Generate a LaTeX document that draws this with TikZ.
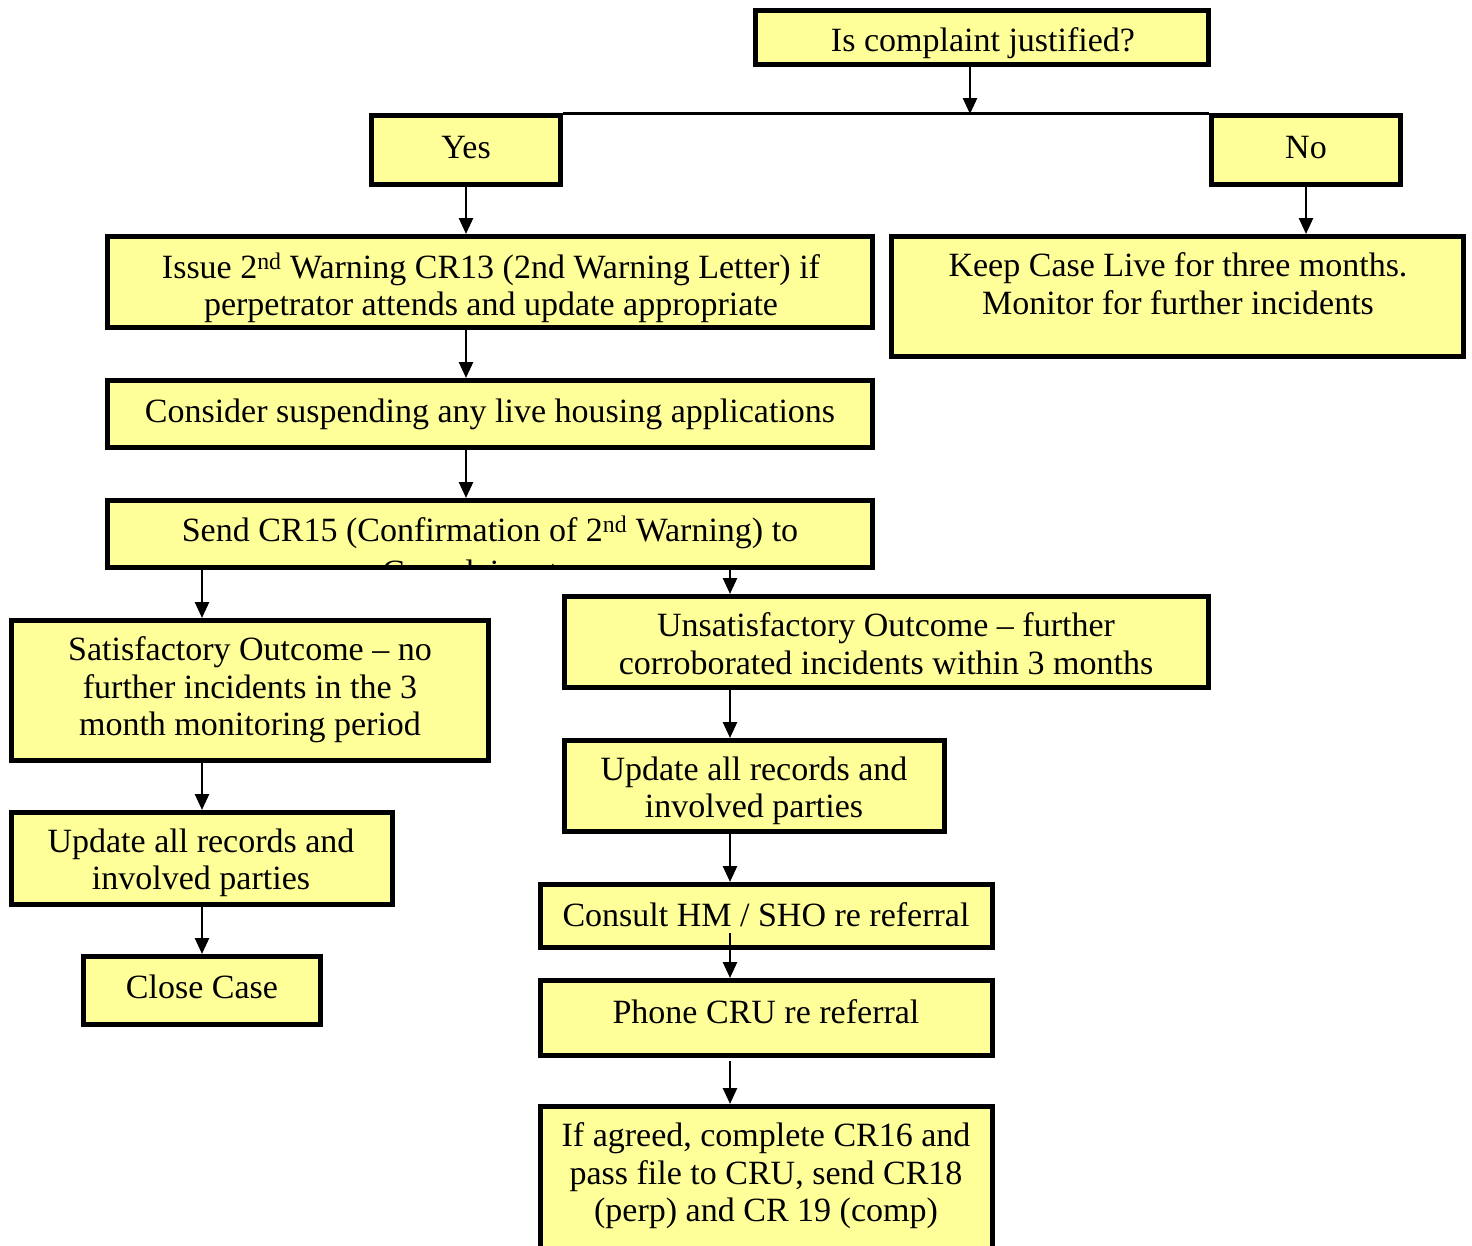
\documentclass[tikz,border=0pt]{standalone}
\usepackage{fontspec}
\setmainfont{Liberation Serif}
\usetikzlibrary{arrows.meta}
\definecolor{boxfill}{HTML}{FFFF99}
\tikzset{
  box/.style={draw=black, fill=boxfill, line width=5pt, inner sep=0pt, rectangle},
  boxtext/.style={anchor=north, inner sep=0pt, align=center, yshift=3pt,
    font=\fontsize{34}{37.5}\selectfont, execute at begin node={\strut}},
  arr/.style={line width=2.6pt, -{Triangle[length=16pt,width=14pt]}},
}
\begin{document}
\begin{tikzpicture}[x=1pt,y=-1pt]
\useasboundingbox (0,0) rectangle (1472,1245);

% boxes
\node[box, minimum width=453pt, minimum height=54pt]  (q)       at (982,37.5)   {};
\node[box, minimum width=189pt, minimum height=69pt]  (yes)     at (466,150)    {};
\node[box, minimum width=189pt, minimum height=69pt]  (no)      at (1306,150)   {};
\node[box, minimum width=765pt, minimum height=91pt]  (issue)   at (490,282)    {};
\node[box, minimum width=572pt, minimum height=120pt] (keep)    at (1177.5,296.5) {};
\node[box, minimum width=765pt, minimum height=67pt]  (consider) at (490,414)   {};
\node[box, minimum width=765pt, minimum height=67pt]  (send)    at (490,534)    {};
\node[box, minimum width=477pt, minimum height=140pt] (sat)     at (250,690.5)  {};
\node[box, minimum width=644pt, minimum height=91pt]  (unsat)   at (886.5,642)  {};
\node[box, minimum width=381pt, minimum height=92pt]  (updl)    at (202,858.5)  {};
\node[box, minimum width=237pt, minimum height=68pt]  (close)   at (202,990.5)  {};
\node[box, minimum width=380pt, minimum height=91pt]  (updr)    at (754.5,786)  {};
\node[box, minimum width=452pt, minimum height=63pt]  (consult) at (766.5,916)  {};
\node[box, minimum width=452pt, minimum height=75pt]  (phone)   at (766.5,1018) {};
\node[box, minimum width=452pt, minimum height=151pt] (agreed)  at (766.5,1182) {};

% box texts
\node[boxtext] (q-t)       at (983,28)   {Is complaint justified?};
\node[boxtext] (yes-t)     at (466,135.5)  {Yes};
\node[boxtext] (no-t)      at (1306,135.5) {No};
\node[boxtext] (issue-t)   at (491,255.5)  {Issue 2\textsuperscript{nd} Warning CR13 (2nd Warning Letter) if\\perpetrator attends and update appropriate};
\node[boxtext] (keep-t)    at (1178,255.5) {Keep Case Live for three months.\\Monitor for further incidents};
\node[boxtext] (consider-t) at (490,399.5) {Consider suspending any live housing applications};
\node[boxtext] (send-t)    at (490,518.5)  {Send CR15 (Confirmation of 2\textsuperscript{nd} Warning) to};
\begin{scope}
  \clip ([xshift=2.5pt,yshift=2.5pt]send.south west) rectangle ([xshift=-2.5pt,yshift=-2.5pt]send.north east);
  \node[boxtext] (send-t2) at (470,560) {Complainant};
\end{scope}
\node[boxtext] (unsat-t)   at (886,615.5)  {Unsatisfactory Outcome -- further\\corroborated incidents within 3 months};
\node[boxtext] (sat-t)     at (250,639.5)  {Satisfactory Outcome -- no\\further incidents in the 3\\month monitoring period};
\node[boxtext] (updl-t)    at (201,831.5)  {Update all records and\\involved parties};
\node[boxtext] (close-t)   at (202,975.5)  {Close Case};
\node[boxtext] (updr-t)    at (754,759.5)  {Update all records and\\involved parties};
\node[boxtext] (consult-t) at (766,903.5)  {Consult HM / SHO re referral};
\node[boxtext] (phone-t)   at (766,1000.5)  {Phone CRU re referral};
\node[boxtext] (agreed-t)  at (766,1125.5) {If agreed, complete CR16 and\\pass file to CRU, send CR18\\(perp) and CR 19 (comp)};

% connectors
\coordinate (split) at (970,114);
\coordinate (colR) at (730,0);
\draw[line width=3pt] (yes.north east) -- (no.north west);
\draw[arr] (q.south -| split) -- (split);
\draw[arr] (yes.south) -- (yes.south |- issue.north);
\draw[arr] (no.south) -- (no.south |- keep.north);
\draw[arr] (issue.south -| yes.south) -- (consider.north -| yes.south);
\draw[arr] (consider.south -| yes.south) -- (send.north -| yes.south);
\draw[arr] (send.south -| close.north) -- (sat.north -| close.north);
\draw[arr] (send.south -| colR) -- (unsat.north -| colR);
\draw[arr] (sat.south -| close.north) -- (updl.north);
\draw[arr] (updl.south) -- (close.north);
\draw[arr] (unsat.south -| colR) -- (updr.north -| colR);
\draw[arr] (updr.south -| colR) -- (consult.north -| colR);
\draw[arr] ([yshift=17pt]consult.south -| colR) -- (phone.north -| colR);
\draw[arr] ([yshift=-3pt]phone.south -| colR) -- (agreed.north -| colR);
\end{tikzpicture}
\end{document}
